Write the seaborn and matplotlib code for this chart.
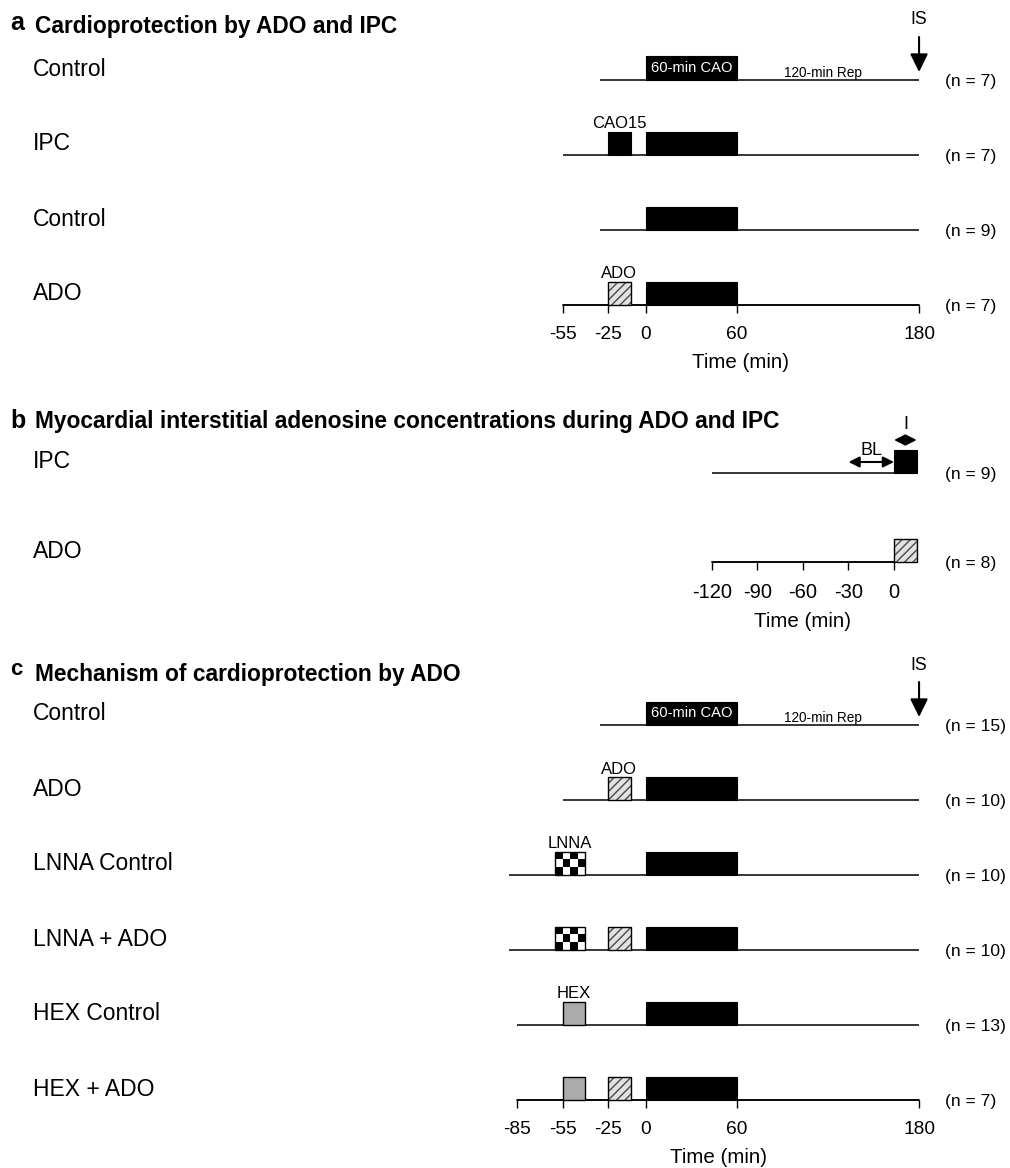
import numpy as np
import matplotlib
matplotlib.use("Agg")
import matplotlib.pyplot as plt
import matplotlib.transforms as mtransforms
from matplotlib.colors import ListedColormap
import seaborn as sns

# ====== Protocol data (times in min) ======
# a: Cardioprotection by ADO and IPC
a_groups = ["Control", "IPC", "Control", "ADO"]
a_n = [7, 7, 9, 7]
a_line_start = [-30, -55, -30, -55]
a_line_end = 180
a_ticks = [-55, -25, 0, 60, 180]
a_boxes = [(0, "cao", 0, 60),
           (1, "cao", -25, -10), (1, "cao", 0, 60),
           (2, "cao", 0, 60),
           (3, "ado", -25, -10), (3, "cao", 0, 60)]
a_box_labels = [(1, "CAO15", -25, -10), (3, "ADO", -25, -10)]

# b: interstitial adenosine during ADO and IPC
b_groups = ["IPC", "ADO"]
b_n = [9, 8]
b_line_start = [-120, -120]
b_line_end = 15
b_ticks = [-120, -90, -60, -30, 0]
b_boxes = [(0, "cao", 0, 15), (1, "ado", 0, 15)]
b_baseline = (-30, 0)
b_ischemia = (0, 15)

# c: mechanism of cardioprotection by ADO
c_groups = ["Control", "ADO", "LNNA Control", "LNNA + ADO", "HEX Control", "HEX + ADO"]
c_n = [15, 10, 10, 10, 13, 7]
c_line_start = [-30, -55, -90, -90, -85, -85]
c_line_end = 180
c_ticks = [-85, -55, -25, 0, 60, 180]
c_boxes = [(0, "cao", 0, 60),
           (1, "ado", -25, -10), (1, "cao", 0, 60),
           (2, "lnna", -60, -40), (2, "cao", 0, 60),
           (3, "lnna", -60, -40), (3, "ado", -25, -10), (3, "cao", 0, 60),
           (4, "hex", -55, -40), (4, "cao", 0, 60),
           (5, "hex", -55, -40), (5, "ado", -25, -10), (5, "cao", 0, 60)]
c_box_labels = [(1, "ADO", -25, -10), (2, "LNNA", -60, -40), (4, "HEX", -55, -40)]

titles = ["Cardioprotection by ADO and IPC",
          "Myocardial interstitial adenosine concentrations during ADO and IPC",
          "Mechanism of cardioprotection by ADO"]

# ====== Layout ======
W, H = 1010, 1168
PX_PER_MIN = 1.517
BOX_PX = 23.5
LW = 1.1
REP_X = 117

sns.set_theme(style="white")
plt.rcParams["font.family"] = ["Liberation Sans", "DejaVu Sans"]
plt.rcParams["text.color"] = "black"
plt.rcParams["axes.labelcolor"] = "black"
NARROW = ["Liberation Sans Narrow", "Liberation Sans", "DejaVu Sans"]
REGULAR = ["Liberation Sans", "DejaVu Sans"]

fig = plt.figure(figsize=(W / 100, H / 100), dpi=100)


def make_axes(top_px, line_px, zero_px, row_px):
    ax = fig.add_axes([0, 1 - line_px / H, 1, (line_px - top_px) / H])
    ax.set_xlim(-zero_px / PX_PER_MIN, (W - zero_px) / PX_PER_MIN)
    ax.set_ylim(0, (line_px - top_px) / row_px)
    ax.patch.set_alpha(0)
    for s in ["left", "right", "top"]:
        ax.spines[s].set_visible(False)
    ax.spines["bottom"].set_color("black")
    ax.spines["bottom"].set_linewidth(LW)
    ax.set_yticks([])
    ax.grid(False)
    return ax


def draw_box(ax, y, kind, start, end, h):
    w = end - start
    kw = dict(width=w, bottom=y, align="edge", clip_on=False)
    if kind == "cao":
        ax.bar(start, h, color="black", edgecolor="black", linewidth=0.8, zorder=3, **kw)
    elif kind == "ado":
        ax.bar(start, h, color="#e2e2e2", edgecolor="#4a4a4a", hatch="////", linewidth=0, zorder=3, **kw)
        ax.bar(start, h, fill=False, edgecolor="black", linewidth=1.0, zorder=4, **kw)
    elif kind == "hex":
        ax.bar(start, h, color="#ababab", edgecolor="black", linewidth=1.0, zorder=3, **kw)
    elif kind == "lnna":
        xs = np.linspace(start, end, 5)
        ys = np.linspace(y, y + h, 4)
        cells = (np.add.outer(np.arange(3), np.arange(4)) + 1) % 2
        ax.pcolormesh(xs, ys, cells, cmap=ListedColormap(["white", "black"]), shading="flat", zorder=3)
        ax.bar(start, h, fill=False, edgecolor="black", linewidth=1.0, zorder=4, **kw)


def draw_panel(ax, groups, n, starts, end, boxes, box_labels, ticks, row_px, fam, tick_size=13.8):
    nrows = len(groups)
    h = BOX_PX / row_px
    px = 1 / row_px
    ys = [nrows - 1 - r for r in range(nrows)]
    ax.hlines(ys, starts, end, color="black", linewidth=LW, clip_on=False, zorder=2)
    for r, kind, s, e in boxes:
        draw_box(ax, ys[r], kind, s, e, h)
    for r, lab, s, e in box_labels:
        ax.text((s + e) / 2, ys[r] + h + 3 * px, lab, ha="center", va="baseline",
                fontsize=12, family=fam)
    trans = mtransforms.blended_transform_factory(ax.transAxes, ax.transData)
    for y, g, k in zip(ys, groups, n):
        ax.text(33 / W, y + 4.5 * px, g, transform=trans, ha="left", va="baseline",
                fontsize=16.5, family=fam)
        ax.text(945 / W, y - 1.5 * px, f"(n = {k})", transform=trans, ha="left", va="center",
                fontsize=12.6, family=fam)
    # time axis on the last row
    ax.spines["bottom"].set_bounds(starts[-1], end)
    ax.set_xticks(ticks)
    ax.set_xticklabels([str(t) for t in ticks], family=fam)
    ax.tick_params(axis="x", bottom=True, direction="out", length=5.8, width=1.0,
                   color="black", labelcolor="black", labelsize=tick_size, pad=9.3)
    ax.set_xlabel("Time (min)", fontsize=14.8, labelpad=7, color="black", family=fam)
    lo, hi = ax.get_xlim()
    ax.xaxis.label.set_x(((ticks[0] + ticks[-1]) / 2 - lo) / (hi - lo))
    return ys, h, px


def draw_cao_and_is(ax, y, h, px, end):
    ax.text(30, y + h / 2, "60-min CAO", color="white", ha="center", va="center",
            fontsize=10.6, zorder=5)
    ax.text(REP_X, y + 3 * px, "120-min Rep", ha="center", va="baseline", fontsize=9.8)
    ax.annotate("", xy=(end, y + 8 * px), xytext=(end, y + 43 * px),
                arrowprops=dict(arrowstyle="-|>,head_length=0.55,head_width=0.27",
                                mutation_scale=20, lw=1.5, color="black",
                                shrinkA=0, shrinkB=0),
                annotation_clip=False)
    ax.text(end, y + 60 * px, "IS", ha="center", va="center", fontsize=12.7)


def panel_title(letter, text, base_px, letter_base_px, letter_size, fam):
    fig.text(10 / W, 1 - letter_base_px / H, letter, fontsize=letter_size, fontweight="bold",
             va="baseline", ha="left", family=fam)
    fig.text(35 / W, 1 - base_px / H, text, fontsize=16.4, fontweight="bold",
             va="baseline", ha="left", family=fam)


# ====== Panel a ======
ax_a = make_axes(0, 305, 646, 75)
ys, h, px = draw_panel(ax_a, a_groups, a_n, a_line_start, a_line_end, a_boxes,
                       a_box_labels, a_ticks, 75, REGULAR)
draw_cao_and_is(ax_a, ys[0], h, px, a_line_end)
panel_title("a", titles[0], 33, 30, 18, REGULAR)

# ====== Panel b ======
ax_b = make_axes(395, 562, 894, 89)
ys, h, px = draw_panel(ax_b, b_groups, b_n, b_line_start, b_line_end, b_boxes,
                       [], b_ticks, 89, NARROW, tick_size=14.5)
arrow = dict(arrowstyle="<|-|>,head_length=0.32,head_width=0.16", mutation_scale=20,
             lw=1.5, color="black", shrinkA=0, shrinkB=0)
ax_b.annotate("", xy=(b_baseline[0], ys[0] + 11 * px), xytext=(b_baseline[1], ys[0] + 11 * px),
              arrowprops=arrow, annotation_clip=False)
ax_b.text(sum(b_baseline) / 2, ys[0] + 18 * px, "BL", ha="center", va="baseline",
          fontsize=13, family=NARROW)
ax_b.annotate("", xy=(b_ischemia[0], ys[0] + 33 * px), xytext=(b_ischemia[1], ys[0] + 33 * px),
              arrowprops=arrow, annotation_clip=False)
ax_b.text(sum(b_ischemia) / 2, ys[0] + 48 * px, "I", ha="center", va="center",
          fontsize=13, family=NARROW)
panel_title("b", titles[1], 428, 428, 18, NARROW)

# ====== Panel c ======
ax_c = make_axes(650, 1100, 646, 75)
ys, h, px = draw_panel(ax_c, c_groups, c_n, c_line_start, c_line_end, c_boxes,
                       c_box_labels, c_ticks, 75, REGULAR)
draw_cao_and_is(ax_c, ys[0], h, px, c_line_end)
panel_title("c", titles[2], 681, 675, 16, REGULAR)

fig.savefig("out.png", dpi=100)
